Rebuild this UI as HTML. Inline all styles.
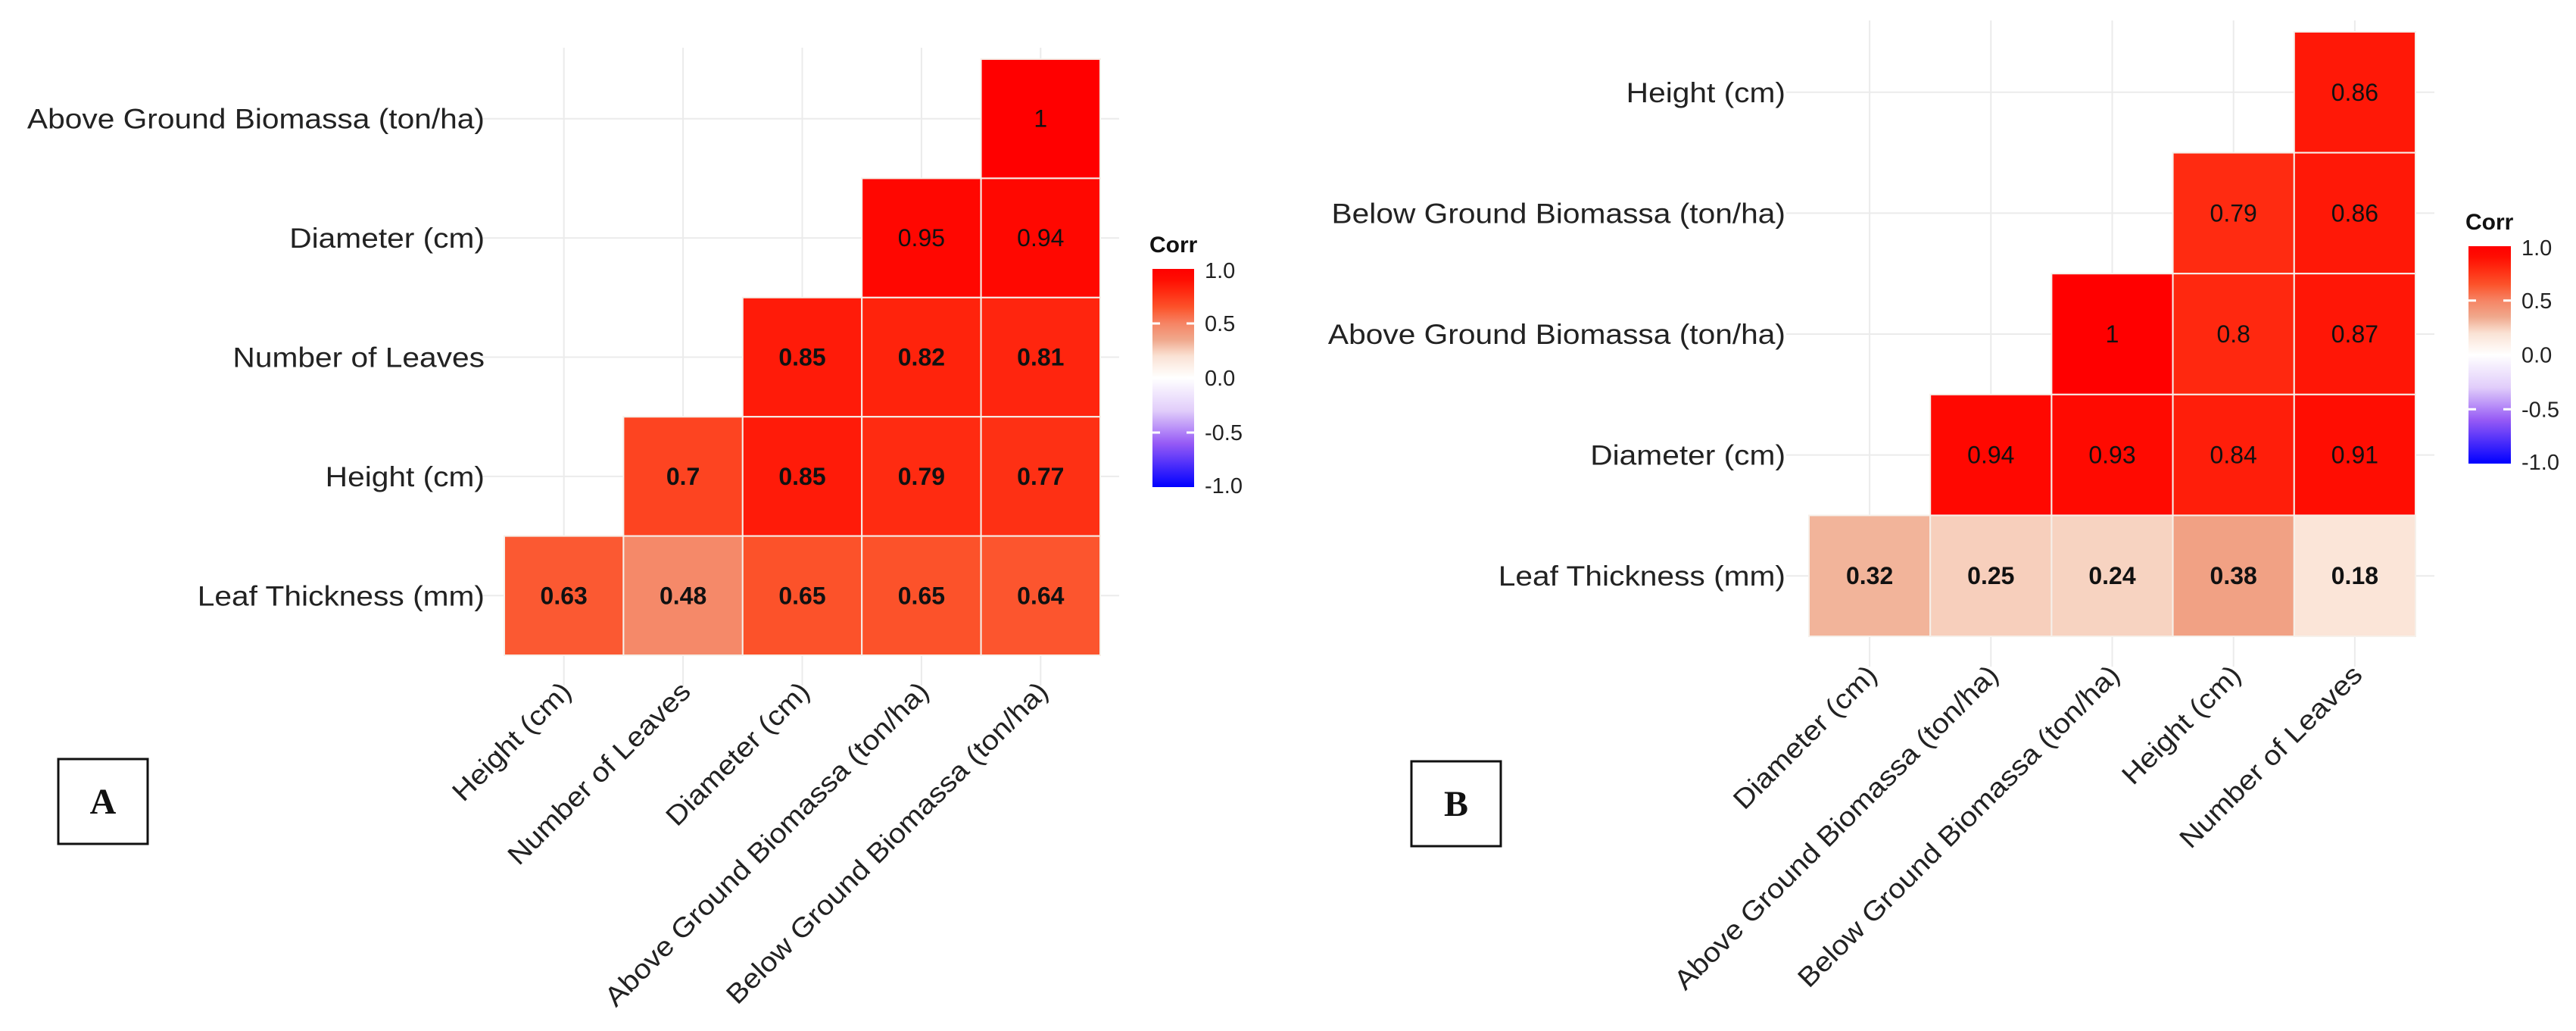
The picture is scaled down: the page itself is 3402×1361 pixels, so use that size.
<!DOCTYPE html>
<html><head><meta charset="utf-8">
<style>
html,body{margin:0;padding:0;background:#fff;}
svg{display:block;}
text{font-family:"Liberation Sans",Arial,sans-serif;}
</style></head>
<body>
<svg id="fig" width="3402" height="1361" viewBox="0 0 3402 1361" xmlns="http://www.w3.org/2000/svg">
<rect x="0" y="0" width="3402" height="1361" fill="#ffffff"/>
</svg>
<script>
// Panel A data
const rowsA = ["Above Ground Biomassa (ton/ha)","Diameter (cm)","Number of Leaves","Height (cm)","Leaf  Thickness (mm)"];
const colsA = ["Height (cm)","Number of Leaves","Diameter (cm)","Above Ground Biomassa (ton/ha)","Below Ground Biomassa (ton/ha)"];
const valsA = [
  [null,null,null,null,1],
  [null,null,null,0.95,0.94],
  [null,null,0.85,0.82,0.81],
  [null,0.7,0.85,0.79,0.77],
  [0.63,0.48,0.65,0.65,0.64]
];
// Panel B data
const rowsB = ["Height (cm)","Below Ground Biomassa (ton/ha)","Above Ground Biomassa (ton/ha)","Diameter (cm)","Leaf  Thickness (mm)"];
const colsB = ["Diameter (cm)","Above Ground Biomassa (ton/ha)","Below Ground Biomassa (ton/ha)","Height (cm)","Number of Leaves"];
const valsB = [
  [null,null,null,null,0.86],
  [null,null,null,0.79,0.86],
  [null,null,1,0.8,0.87],
  [null,0.94,0.93,0.84,0.91],
  [0.32,0.25,0.24,0.38,0.18]
];
const legendTicks = [1.0,0.5,0.0,-0.5,-1.0];
const legendTickLabels = ["1.0","0.5","0.0","-0.5","-1.0"];

const NS="http://www.w3.org/2000/svg";
const svg=document.getElementById('fig');
function mk(tag,attrs,parent){const e=document.createElementNS(NS,tag);for(const k in attrs)e.setAttribute(k,attrs[k]);(parent||svg).appendChild(e);return e;}

// colour ramp (styling, not data)
const posStops=[[0,255,255,255],[0.2,250,226,212],[0.35,240,168,140],[0.5,246,132,100],[0.65,252,82,42],[0.8,255,40,15],[0.9,255,14,2],[1,255,0,0]];
const negStops=[[0,255,255,255],[0.3,225,205,250],[0.6,150,90,245],[1,0,0,255]];
function color(v){const t=Math.min(1,Math.abs(v));const st=v>=0?posStops:negStops;
 for(let k=1;k<st.length;k++){if(t<=st[k][0]){const a=st[k-1],b=st[k],f=(t-a[0])/(b[0]-a[0]);
  return `rgb(${Math.round(a[1]+(b[1]-a[1])*f)},${Math.round(a[2]+(b[2]-a[2])*f)},${Math.round(a[3]+(b[3]-a[3])*f)})`;}}
 return 'rgb(255,0,0)';}

function stretch(t,f){const L=t.getComputedTextLength();t.setAttribute('textLength',L*f);t.setAttribute('lengthAdjust','spacingAndGlyphs');}

function drawPanel(p){
 const g=mk('g',{});
 
 
 const n=p.rows.length, cw=(p.x1-p.x0)/p.cols.length, ch=(p.y1-p.y0)/n;
 const xc=j=>p.x0+cw*(j+0.5), yc=i=>p.y0+ch*(i+0.5);
 for(let j=0;j<p.cols.length;j++){const l=mk('line',{x1:xc(j),x2:xc(j),y1:p.y0-15,y2:p.y1+40,stroke:'#ebebeb','stroke-width':2},g);
  }
 for(let i=0;i<n;i++){const l=mk('line',{x1:p.x0-30,x2:p.x1+25,y1:yc(i),y2:yc(i),stroke:'#ebebeb','stroke-width':2},g);
  }
 for(let i=0;i<n;i++)for(let j=0;j<p.cols.length;j++){const v=p.vals[i][j];if(v===null)continue;
  const r=mk('rect',{x:p.x0+cw*j,y:p.y0+ch*i,width:cw,height:ch,fill:color(v),stroke:'#f6f0ea','stroke-width':2},g);
  
  const t=mk('text',{x:xc(j),y:yc(i)+11,'text-anchor':'middle','font-size':32,'font-weight':(i===n-1||p.boldAll&&i>1)?'bold':'normal',fill:'#111'},g);
  t.textContent=String(v);}
 for(let i=0;i<n;i++){const t=mk('text',{x:p.x0-p.ygap,y:yc(i)+13,'text-anchor':'end','font-size':37,fill:'#222'},g);
  t.textContent=p.rows[i];stretch(t,1.1);}
 for(let j=0;j<p.cols.length;j++){const x=xc(j)+12,y=p.xly;
  const t=mk('text',{x:x,y:y,'text-anchor':'end','font-size':36,fill:'#222',transform:`rotate(-45 ${x} ${y})`},g);
  t.textContent=p.cols[j];stretch(t,1.1);}
 const lg=mk('g',{},g);
 const ct=mk('text',{x:p.lx-4,y:p.ly-22,'font-size':30,'font-weight':'bold',fill:'#111'},lg);ct.textContent='Corr';
 
 const gid='grad'+p.name;const defs=mk('defs',{},lg);const lin=mk('linearGradient',{id:gid,x1:0,y1:0,x2:0,y2:1},defs);
 for(let k=0;k<=40;k++){const v=1-k/20;mk('stop',{offset:(k*2.5)+'%','stop-color':color(v)},lin);}
 const bar=mk('rect',{x:p.lx,y:p.ly,width:p.lw,height:p.lh,fill:`url(#${gid})`},lg);
 
 const ly=v=>p.ly+p.lh*(1-v)/2;
 legendTicks.forEach((v,k)=>{const y=Math.min(p.ly+p.lh-2,Math.max(p.ly+2,ly(v)));
  if(Math.abs(v)<1){mk('line',{x1:p.lx,x2:p.lx+10,y1:y,y2:y,stroke:'#fff','stroke-width':3},lg);mk('line',{x1:p.lx+p.lw-10,x2:p.lx+p.lw,y1:y,y2:y,stroke:'#fff','stroke-width':3},lg);}
  const t=mk('text',{x:p.lx+p.lw+14,y:y+10,'font-size':29,fill:'#222'},lg);t.textContent=legendTickLabels[k];
  });
 const bx=mk('rect',{x:p.bx,y:p.by,width:118,height:112,fill:'#fff',stroke:'#111','stroke-width':3},g);
 
 const bt=mk('text',{x:p.bx+59,y:p.by+72,'text-anchor':'middle','font-size':48,'font-weight':'bold',fill:'#111',style:'font-family:"Liberation Serif",serif'},g);
 bt.textContent=p.letter;
}
drawPanel({name:'panel-a',rows:rowsA,cols:colsA,vals:valsA,x0:666,x1:1453,y0:78,y1:865,ygap:26,xly:915,
 lx:1522,ly:355,lw:55,lh:288,bx:77,by:1002,letter:'A',boldAll:true});
drawPanel({name:'panel-b',rows:rowsB,cols:colsB,vals:valsB,x0:2389,x1:3190,y0:42,y1:840,ygap:31,xly:893,
 lx:3260,ly:325,lw:56,lh:287,bx:1864,by:1005,letter:'B',boldAll:false});
</script>
</body></html>
